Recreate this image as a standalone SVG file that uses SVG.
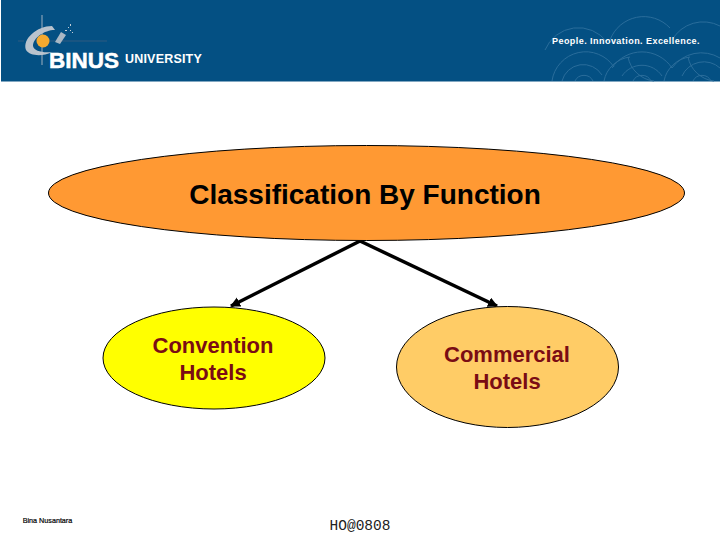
<svg xmlns="http://www.w3.org/2000/svg" width="720" height="540" viewBox="0 0 720 540">
<style>
text{font-family:"Liberation Sans",Arial,sans-serif;text-anchor:middle}
.n{stroke:#000;stroke-width:1}
.t{font-size:22px;font-weight:700;fill:#7a0c14}
.c{stroke:#000;stroke-width:3.5;fill:none;marker-end:url(#a)}
.w{fill:none;stroke:#2a6d9b;stroke-width:1}
</style>
<defs><marker id="a" markerUnits="userSpaceOnUse" markerWidth="12" markerHeight="12" refX="9" refY="5" orient="auto"><path d="M0 0L10 5L0 10Z" fill="#000"/></marker></defs>
<rect width="720" height="540" fill="#fff"/>
<g id="header">
<rect x="1" y="0" width="719" height="81.500" fill="#045083"/>
<path class="w" d="M545 50a36 36 0 0 1 62 -8M610 40a36 36 0 0 1 60 -12M672 40a36 36 0 0 1 48 -14M552 81a34 34 0 0 1 62 -14M612 68a36 36 0 0 1 60 0M672 68a36 36 0 0 1 48 -10M562 81a22 22 0 0 1 40 -6M622 76a24 24 0 0 1 40 0M682 76a24 24 0 0 1 38 -8M575 81a10 10 0 0 1 18 0M633 81a10 10 0 0 1 18 0M693 81a10 10 0 0 1 18 0M604 81a30 30 0 0 1 26 -24M654 81a30 30 0 0 1 -26 -24M664 81a30 30 0 0 1 26 -24M714 81a30 30 0 0 1 -26 -24"/>
<path d="M42 15V65" stroke="#9fb0c0" stroke-width="1" fill="none"/>
<path d="M48 41H107M18 41H24" stroke="#2f5a80" stroke-width="1" fill="none"/>
<path d="M26 50C22 39 37 26 52 26L55 30C44 30 33 38 33 46C34 51 42 53 52 52C42 57 30 56 26 50Z" fill="#b9c3cd"/>
<path d="M55 42L61 32L66 35L60 44Z" fill="#a9b7c4"/>
<path d="M68 27h1v1h-1zM70 24h1v2h-1zM65 30h2v1h-2zM70 30h1v1h-1zM72 32h1v1h-1z" fill="#c3cdd6"/>
<circle cx="43" cy="41" r="6.500" fill="#f4a92f"/>
<text x="84" y="68" style="font-size:22.500px;font-weight:700;fill:#fff;stroke:#fff;stroke-width:.5">BINUS</text>
<text x="163.500" y="63" style="font-size:12.500px;font-weight:700;fill:#fff;letter-spacing:.2px">UNIVERSITY</text>
<text x="626" y="44" style="font-size:9px;font-weight:700;fill:#fff;letter-spacing:.45px">People. Innovation. Excellence.</text>
</g>
<g id="connectors">
<path class="c" d="M360 241L231 306"/>
<path class="c" d="M360 241L497 306"/>
</g>
<g id="node-function">
<ellipse class="n" cx="366.500" cy="193" rx="318" ry="47.500" fill="#ff9933"/>
<text x="365" y="203.500" style="font-size:28px;font-weight:700;fill:#000;font-size:28px;font-weight:700">Classification By Function</text>
</g>
<g id="node-convention">
<ellipse class="n" cx="214" cy="358" rx="111" ry="51" fill="#ffff00"/>
<text class="t" x="213" y="353">Convention</text>
<text class="t" x="213" y="380">Hotels</text>
</g>
<g id="node-commercial">
<ellipse class="n" cx="507.500" cy="367" rx="111" ry="60.500" fill="#ffcc66"/>
<text class="t" x="507" y="362">Commercial</text>
<text class="t" x="507" y="389">Hotels</text>
</g>
<g id="footer">
<text x="47.500" y="522.500" style="font-size:7.200px;fill:#000;stroke:#000;stroke-width:.2">Bina Nusantara</text>
<text x="360" y="530" style="font-family:'Liberation Mono','DejaVu Sans Mono',monospace;font-size:14.500px;fill:#222">HO@0808</text>
</g>
</svg>
